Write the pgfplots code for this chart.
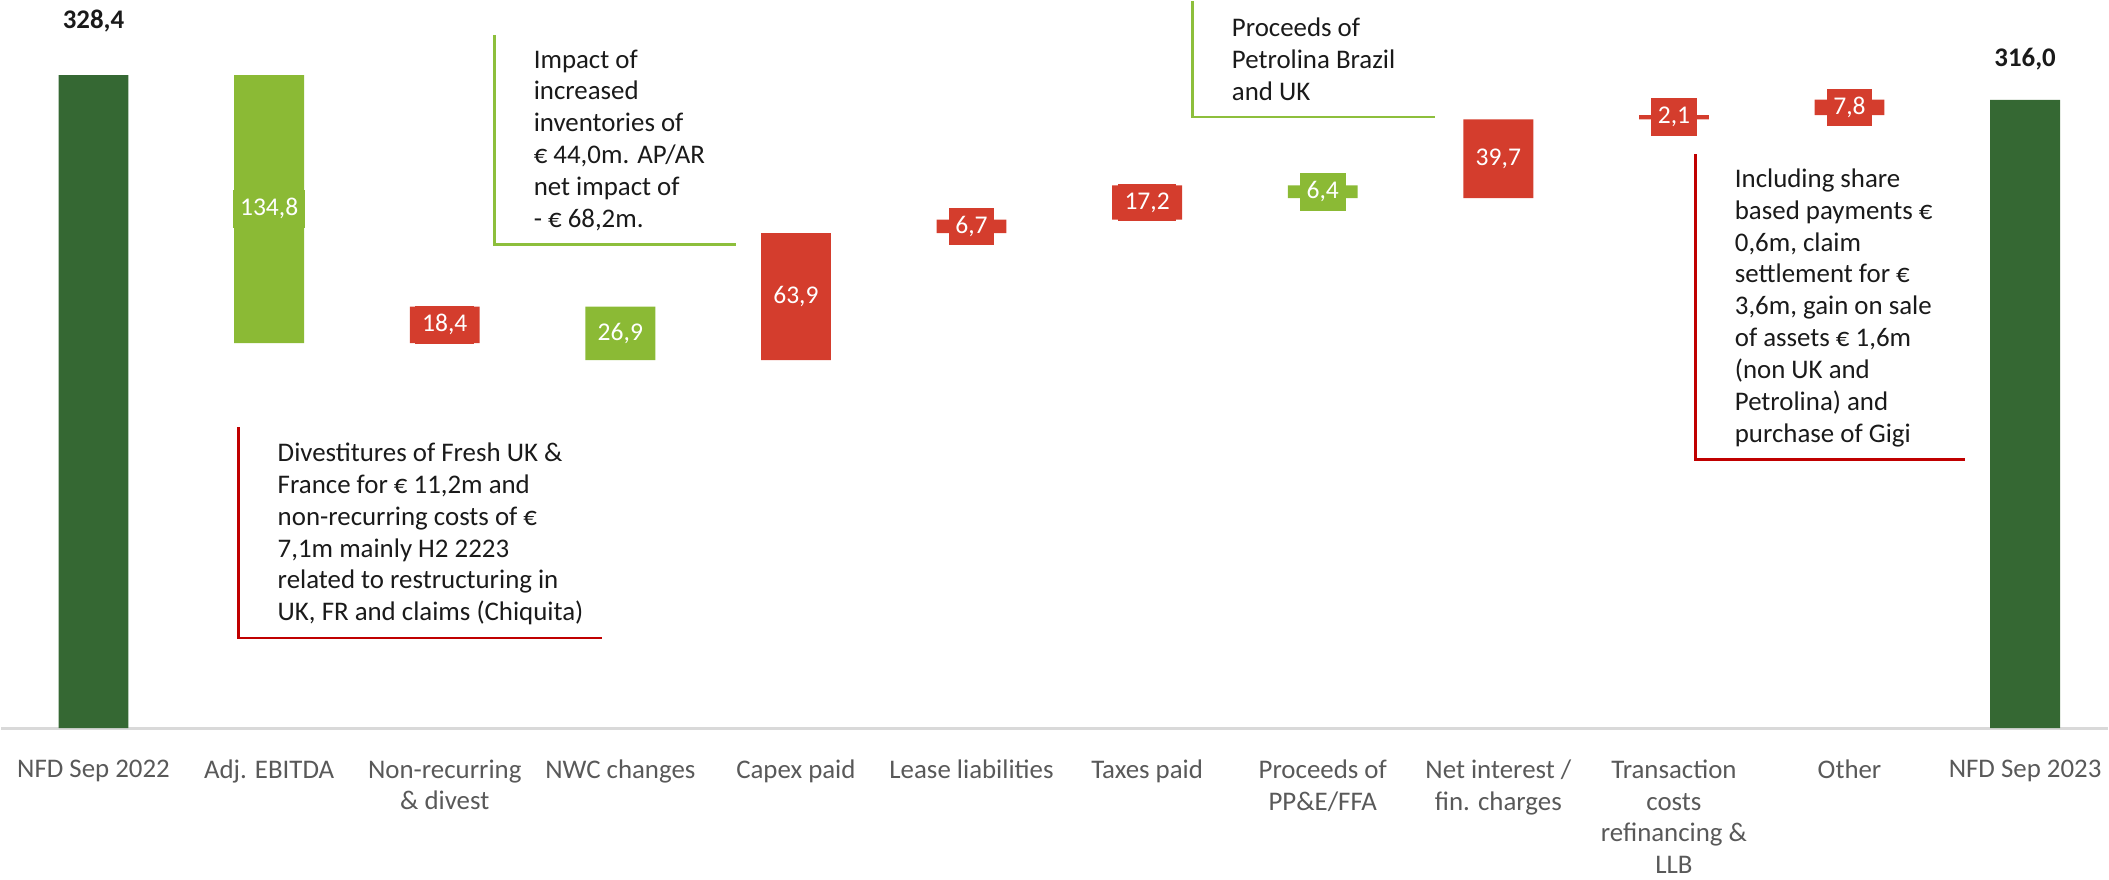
\documentclass[border=0pt]{standalone}
\usepackage{fontspec}
\setmainfont{Carlito}
\usepackage{pgfplots}
\pgfplotsset{compat=1.18}
\definecolor{dkgreen}{HTML}{356833}
\definecolor{ltgreen}{HTML}{8BBA35}
\definecolor{barred}{HTML}{D43D2D}
\definecolor{cred}{HTML}{C00000}
\definecolor{cgreen}{HTML}{8DBF3C}
\definecolor{tick}{HTML}{595959}
\definecolor{base}{HTML}{D9D9D9}
\definecolor{txt}{HTML}{1A1A1A}
\pgfplotsset{
  wfdims/.style={
    scale only axis, width=783.9pt, height=270.5pt,
    xmin=-0.525, xmax=11.47, ymin=0, ymax=365.5,
    enlargelimits=false, clip=false
  }
}
\begin{document}
\begin{tikzpicture}
\begin{axis}[wfdims,
  ybar stacked, bar width=26pt,
  axis y line=none, axis x line*=bottom,
  x axis line style={draw=base, line width=1pt},
  xtick={0,1,2,3,4,5,6,7,8,9,10,11},
  major tick length=0pt,
  xticklabels={NFD Sep 2022, Adj. EBITDA, {Non-recurring\\\& divest}, NWC changes, Capex paid, Lease liabilities, Taxes paid, {Proceeds of\\PP\&E/FFA}, {Net interest /\\fin. charges}, {Transaction\\costs\\refinancing \&\\LLB\rule[-2pt]{0pt}{2pt}}, Other, NFD Sep 2023},
  xticklabel style={align=center, text=tick, inner xsep=0pt, inner ysep=0pt, yshift=-11.5pt, font=\fontsize{10}{11.85}\selectfont},
]
% invisible base
\addplot[draw=none, fill=none] coordinates {(0,0) (1,193.6) (2,193.6) (3,185.1) (4,185.1) (5,249.0) (6,255.7) (7,266.5) (8,266.5) (9,306.2) (10,308.3) (11,0)};
% totals
\addplot[draw=none, fill=dkgreen] coordinates {(0,328.4) (1,0) (2,0) (3,0) (4,0) (5,0) (6,0) (7,0) (8,0) (9,0) (10,0) (11,316.0)};
% decreases
\addplot[draw=none, fill=ltgreen] coordinates {(0,0) (1,134.8) (2,0) (3,26.9) (4,0) (5,0) (6,0) (7,6.4) (8,0) (9,0) (10,0) (11,0)};
% increases
\addplot[draw=none, fill=barred] coordinates {(0,0) (1,0) (2,18.4) (3,0) (4,63.9) (5,6.7) (6,17.2) (7,0) (8,39.7) (9,2.1) (10,7.8) (11,0)};

% callouts
\draw[cgreen, line width=1pt] (axis cs:2.282,348.6) -- (axis cs:2.282,243.2) -- (axis cs:3.656,243.2);
\node[anchor=north west, inner sep=0pt, align=left, text=txt, font=\fontsize{10}{11.85}\selectfont] at (axis cs:2.504,341.5) {Impact of\\increased\\inventories of\\€ 44,0m. AP/AR\\net impact of\\- € 68,2m.};
\draw[cgreen, line width=1pt] (axis cs:6.26,365.5) -- (axis cs:6.26,307.4) -- (axis cs:7.64,307.4);
\node[anchor=north west, inner sep=0pt, align=left, text=txt, font=\fontsize{10}{11.85}\selectfont] at (axis cs:6.48,357.3) {Proceeds of\\Petrolina Brazil\\and UK};
\draw[cred, line width=1pt] (axis cs:0.824,151.4) -- (axis cs:0.824,45.3) -- (axis cs:2.893,45.3);
\node[anchor=north west, inner sep=0pt, align=left, text=txt, font=\fontsize{10}{11.85}\selectfont] at (axis cs:1.046,143.7) {Divestitures of Fresh UK \&\\France for € 11,2m and\\non-recurring costs of €\\7,1m mainly H2 2223\\related to restructuring in\\UK, FR and claims (Chiquita)};
\draw[cred, line width=1pt] (axis cs:9.122,288.5) -- (axis cs:9.122,135.1) -- (axis cs:10.656,135.1);
\node[anchor=north west, inner sep=0pt, align=left, text=txt, font=\fontsize{10}{11.85}\selectfont] at (axis cs:9.344,281.6) {Including share\\based payments €\\0,6m, claim\\settlement for €\\3,6m, gain on sale\\of assets € 1,6m\\(non UK and\\Petrolina) and\\purchase of Gigi};
\end{axis}

\begin{axis}[wfdims, hide axis,
  nodes near coords, point meta=explicit symbolic, nodes near coords align={center}]
\addplot[draw=none, nodes near coords style={fill=barred, text=white, inner xsep=2.5pt, inner ysep=3pt, text height=6.5pt, text depth=1.5pt, font=\fontsize{9.5}{11}\selectfont}] table[meta=label] {
x y label
2 202.8 18,4
4 217.05 63,9
5 252.35 6,7
6 264.3 17,2
8 286.35 39,7
9 307.25 2,1
10 312.2 7,8
};
\addplot[draw=none, nodes near coords style={fill=ltgreen, text=white, inner xsep=2.5pt, inner ysep=3pt, text height=6.5pt, text depth=1.5pt, font=\fontsize{9.5}{11}\selectfont}] table[meta=label] {
x y label
1 261.0 134,8
3 198.55 26,9
7 269.7 6,4
};
\addplot[draw=none, nodes near coords style={text=txt, font=\bfseries\fontsize{10}{12}\selectfont}] table[meta=label] {
x y label
0 355.4 328,4
11 336.5 316,0
};
\end{axis}
\end{tikzpicture}
\end{document}
